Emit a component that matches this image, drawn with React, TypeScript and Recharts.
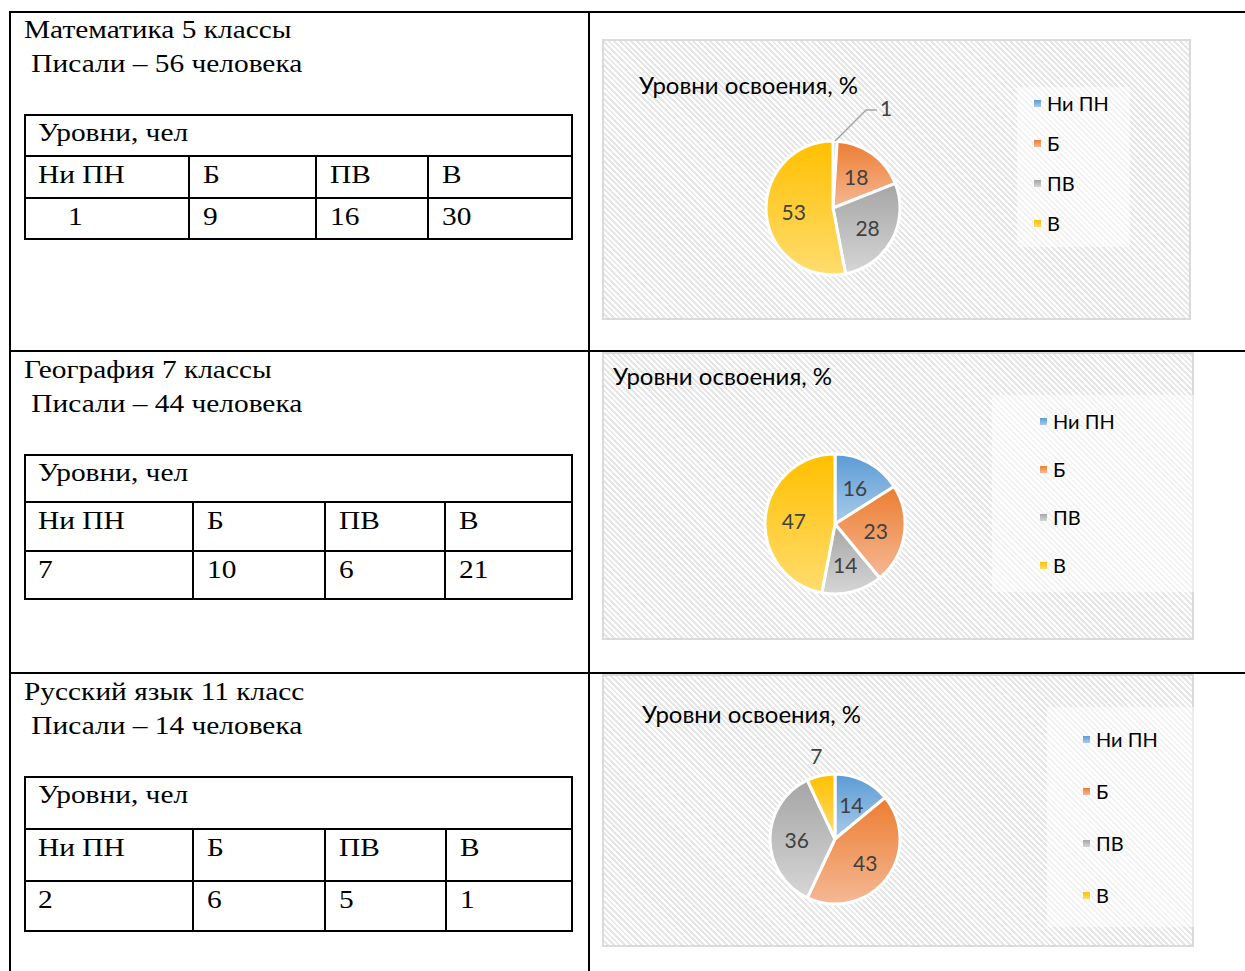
import React from 'react'
import { PieChart, Pie, Cell, Legend } from 'recharts'

// subjects and headcounts
const subjects = ['Математика 5 классы', 'География 7 классы', 'Русский язык 11 класс']
const wroteCounts = [56, 44, 14]
const levelNames = ['Ни ПН', 'Б', 'ПВ', 'В']

// people per level (left tables)
const mathCounts = [1, 9, 16, 30]
const geoCounts = [7, 10, 6, 21]
const rusCounts = [2, 6, 5, 1]

// percent per level (pie charts)
const mathPercents = [1, 18, 28, 53]
const geoPercents = [16, 23, 14, 47]
const rusPercents = [14, 43, 36, 7]

const chartTitle = 'Уровни освоения, %'

const darkColors = ['#5b9bd5', '#ed7d31', '#a5a5a5', '#ffc000']
const lightColors = ['#a9cbea', '#f5b895', '#d6d6d6', '#ffdc6e']

const SERIF = '"Liberation Serif", "Times New Roman", serif'
const SANS = 'Lato, "Open Sans", sans-serif'
const RAD = Math.PI / 180
const STRETCH = 'scaleX(1.13)'

type Panel = {
  textTop: number
  tableTop: number
  rowH: number[]
  cols: number[]
  counts: number[]
  firstIndent: number
  percents: number[]
  box: { left: number; top: number; w: number; h: number }
  pie: { cx: number; cy: number; r: number }
  titlePos: { x: number; y: number }
  legend: { x: number; y: number; step: number; bg: [number, number, number, number] }
}

const panels: Panel[] = [
  {
    textTop: 12, tableTop: 114, rowH: [42, 42, 42],
    cols: [24, 189, 316, 428, 573], counts: mathCounts, firstIndent: 30, percents: mathPercents,
    box: { left: 602, top: 39, w: 589, h: 281 },
    pie: { cx: 231, cy: 169, r: 67 },
    titlePos: { x: 35, y: 29 },
    legend: { x: 432, y: 44, step: 40, bg: [413, 46, 113, 160] },
  },
  {
    textTop: 352, tableTop: 454, rowH: [48, 49, 49],
    cols: [24, 193, 325, 445, 573], counts: geoCounts, firstIndent: 0, percents: geoPercents,
    box: { left: 602, top: 352, w: 592, h: 288 },
    pie: { cx: 233, cy: 172, r: 70 },
    titlePos: { x: 9, y: 7 },
    legend: { x: 438, y: 45, step: 48, bg: [388, 41, 202, 197] },
  },
  {
    textTop: 674, tableTop: 776, rowH: [53, 52, 51],
    cols: [24, 193, 325, 446, 573], counts: rusCounts, firstIndent: 0, percents: rusPercents,
    box: { left: 602, top: 674, w: 592, h: 273 },
    pie: { cx: 233, cy: 165, r: 65 },
    titlePos: { x: 38, y: 23 },
    legend: { x: 481, y: 39, step: 52, bg: [443, 31, 147, 220] },
  },
]

const renderLabel = (props: any) => {
  const { cx, cy, midAngle, outerRadius, value, percent, index } = props
  const cos = Math.cos(-midAngle * RAD)
  const sin = Math.sin(-midAngle * RAD)
  const style = { fontFamily: SANS, fontSize: 21, fill: '#404040' }
  if (percent < 0.05) {
    // tiny slice: label outside with an elbow leader line
    const sx = cx + outerRadius * cos
    const sy = cy + outerRadius * sin
    const ex = sx + 31
    const ey = sy - 31
    return (
      <g key={`l${index}`}>
        <polyline points={`${sx},${sy} ${ex},${ey} ${ex + 11},${ey}`} fill="none" stroke="#a6a6a6" strokeWidth={1.5} />
        <text x={ex + 14} y={ey - 3} dominantBaseline="central" textAnchor="start" style={style}>{value}</text>
      </g>
    )
  }
  const rr = percent < 0.1 ? outerRadius + 21 : outerRadius * 0.59
  return (
    <text key={`l${index}`} x={cx + rr * cos} y={cy + rr * sin} textAnchor="middle" dominantBaseline="central" style={style}>
      {value}
    </text>
  )
}

const ChartBox: React.FC<{ p: Panel; id: number }> = ({ p, id }) => {
  const data = levelNames.map((name, i) => ({ name, value: p.percents[i] }))
  const { box, pie, legend } = p
  return (
    <div
      style={{
        position: 'absolute', left: box.left, top: box.top, width: box.w, height: box.h,
        boxSizing: 'border-box', border: '2px solid #dadada',
        background: 'repeating-linear-gradient(45deg, #ffffff 0px, #ffffff 2px, #e6e6e6 2px, #e6e6e6 4px)',
      }}
    >
      <div
        style={{
          position: 'absolute', left: legend.bg[0], top: legend.bg[1], width: legend.bg[2], height: legend.bg[3],
          background: 'rgba(255,255,255,0.5)',
        }}
      />
      <div style={{ position: 'absolute', left: p.titlePos.x, top: p.titlePos.y, fontFamily: SANS, fontSize: 24, color: '#000', whiteSpace: 'nowrap', lineHeight: '30px' }}>
        {chartTitle}
      </div>
      <div style={{ position: 'absolute', left: -2, top: -2 }}>
        <PieChart width={box.w} height={box.h} margin={{ top: 0, right: 0, bottom: 0, left: 0 }}>
          <defs>
            {darkColors.map((c, i) => (
              <linearGradient key={i} id={`g${id}_${i}`} x1="0" y1="0" x2="0" y2="1">
                <stop offset="0%" stopColor={c} />
                <stop offset="100%" stopColor={lightColors[i]} />
              </linearGradient>
            ))}
          </defs>
          <Pie
            data={data}
            dataKey="value"
            nameKey="name"
            cx={pie.cx}
            cy={pie.cy}
            outerRadius={pie.r}
            startAngle={90}
            endAngle={-270}
            stroke="#ffffff"
            strokeWidth={3}
            label={renderLabel}
            labelLine={false}
            isAnimationActive={false}
          >
            {data.map((_, i) => (
              <Cell key={i} fill={`url(#g${id}_${i})`} />
            ))}
          </Pie>
          <Legend
            layout="vertical"
            wrapperStyle={{ position: 'absolute', left: legend.x, top: legend.y, width: 140 }}
            content={() => (
              <div>
                {levelNames.map((n, i) => (
                  <div key={n} style={{ height: legend.step, display: 'flex', alignItems: 'center', fontFamily: SANS, fontSize: 20, color: '#000' }}>
                    <span style={{ display: 'inline-block', width: 7, height: 7, marginRight: 6, background: `linear-gradient(${darkColors[i]}, ${lightColors[i]})` }} />
                    {n}
                  </div>
                ))}
              </div>
            )}
          />
        </PieChart>
      </div>
    </div>
  )
}

const LevelTable: React.FC<{ p: Panel }> = ({ p }) => {
  const { cols, rowH, tableTop } = p
  const left = cols[0]
  const width = cols[4] - cols[0]
  const rowTops = [tableTop, tableTop + rowH[0], tableTop + rowH[0] + rowH[1]]
  const total = rowH[0] + rowH[1] + rowH[2]
  const cell: React.CSSProperties = {
    position: 'absolute', fontFamily: SERIF, fontSize: 26, lineHeight: '26px', color: '#000', whiteSpace: 'nowrap',
    transform: STRETCH, transformOrigin: 'left top',
  }
  const line = '#000'
  return (
    <>
      <div style={{ position: 'absolute', left, top: tableTop, width, height: total, boxSizing: 'border-box', border: `2px solid ${line}` }} />
      <div style={{ position: 'absolute', left, top: rowTops[1] - 1, width, height: 2, background: line }} />
      <div style={{ position: 'absolute', left, top: rowTops[2] - 1, width, height: 2, background: line }} />
      {cols.slice(1, 4).map((x) => (
        <div key={x} style={{ position: 'absolute', left: x - 1, top: rowTops[1], width: 2, height: rowH[1] + rowH[2], background: line }} />
      ))}
      <div style={{ ...cell, left: left + 14, top: rowTops[0] + 6 }}>Уровни, чел</div>
      {levelNames.map((n, i) => (
        <div key={n} style={{ ...cell, left: cols[i] + 14, top: rowTops[1] + 6 }}>{n}</div>
      ))}
      {p.counts.map((v, i) => (
        <div key={i} style={{ ...cell, left: cols[i] + 14 + (i === 0 ? p.firstIndent : 0), top: rowTops[2] + 6 }}>{v}</div>
      ))}
    </>
  )
}

export default function App() {
  return (
    <div style={{ position: 'absolute', left: 0, top: 0, width: 1245, height: 971, background: '#fff', overflow: 'hidden' }}>
      {/* outer document table grid */}
      <div style={{ position: 'absolute', left: 9, top: 11, width: 1236, height: 2, background: '#000' }} />
      <div style={{ position: 'absolute', left: 9, top: 350, width: 1236, height: 2, background: '#000' }} />
      <div style={{ position: 'absolute', left: 9, top: 672, width: 1236, height: 2, background: '#000' }} />
      <div style={{ position: 'absolute', left: 9, top: 11, width: 2, height: 960, background: '#000' }} />
      <div style={{ position: 'absolute', left: 588, top: 11, width: 2, height: 960, background: '#000' }} />

      {panels.map((p, k) => (
        <React.Fragment key={k}>
          <div
            style={{
              position: 'absolute', left: 24, top: p.textTop + 1, fontFamily: SERIF, fontSize: 26, lineHeight: '34px',
              color: '#000', whiteSpace: 'pre', transform: STRETCH, transformOrigin: 'left top',
            }}
          >
            {subjects[k]}
            {'\n'}
            {` Писали – ${wroteCounts[k]} человека`}
          </div>
          <LevelTable p={p} />
          <ChartBox p={p} id={k} />
        </React.Fragment>
      ))}
    </div>
  )
}
